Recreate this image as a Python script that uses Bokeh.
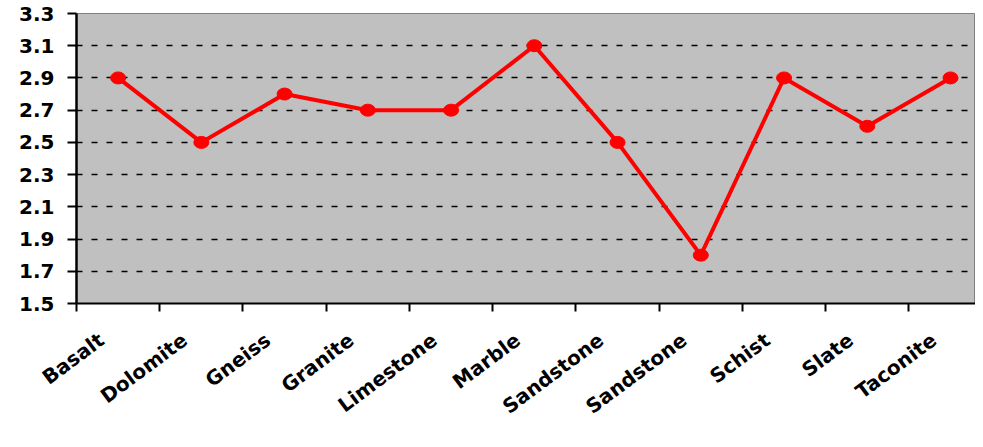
import math
from bokeh.plotting import figure
from bokeh.models import Range1d, FixedTicker, NumeralTickFormatter, ColumnDataSource
from bokeh.embed import file_html
from bokeh.resources import INLINE

rocks = ["Basalt", "Dolomite", "Gneiss", "Granite", "Limestone", "Marble",
         "Sandstone", "Sandstone", "Schist", "Slate", "Taconite"]
density = [2.9, 2.5, 2.8, 2.7, 2.7, 3.1, 2.5, 1.8, 2.9, 2.6, 2.9]
y_ticks = [1.5, 1.7, 1.9, 2.1, 2.3, 2.5, 2.7, 2.9, 3.1, 3.3]

xs = list(range(1, len(rocks) + 1))
src = ColumnDataSource(dict(x=xs, y=density, name=rocks))

FONT = "DejaVu Sans"

p = figure(width=975, height=431, output_backend="svg", toolbar_location=None,
           x_range=Range1d(0.5, 11.3), y_range=Range1d(1.5, 3.3),
           min_border_left=76, min_border_right=0, min_border_top=13, min_border_bottom=127)

p.border_fill_color = "white"
p.background_fill_color = "#C0C0C0"
p.outline_line_color = "#808080"
p.outline_line_width = 1

p.line("x", "y", source=src, line_color="#FF0000", line_width=4)
p.ellipse("x", "y", source=src, width=15, height=12, width_units="screen",
          height_units="screen", fill_color="#FF0000", line_color="#FF0000")

# x axis: labels slightly left of category centres, ticks at category boundaries
label_pos = [x - 0.2 for x in xs]
xa = p.xaxis[0]
xa.ticker = FixedTicker(ticks=label_pos, minor_ticks=[i + 0.5 for i in range(0, len(rocks))])
xa.major_label_overrides = {x: n for x, n in zip(label_pos, rocks)}
xa.major_tick_out = 0
xa.major_tick_in = 0
xa.minor_tick_out = 8
xa.minor_tick_in = 0
xa.minor_tick_line_color = "black"
xa.minor_tick_line_width = 2
xa.axis_line_color = "black"
xa.axis_line_width = 2
xa.major_label_orientation = 0.64
xa.major_label_standoff = 26
xa.major_label_text_font = FONT
xa.major_label_text_font_style = "bold"
xa.major_label_text_font_size = "20px"
xa.major_label_text_color = "black"

# y axis
ya = p.yaxis[0]
ya.ticker = FixedTicker(ticks=y_ticks)
ya.formatter = NumeralTickFormatter(format="0.0")
ya.major_tick_out = 9
ya.major_tick_in = 0
ya.minor_tick_out = 0
ya.minor_tick_in = 0
ya.major_tick_line_color = "black"
ya.major_tick_line_width = 2
ya.axis_line_color = "black"
ya.axis_line_width = 2.5
ya.major_label_standoff = 13
ya.major_label_text_font = FONT
ya.major_label_text_font_style = "bold"
ya.major_label_text_font_size = "20px"
ya.major_label_text_color = "black"

p.xgrid.grid_line_color = None
p.ygrid.grid_line_color = "black"
p.ygrid.grid_line_dash = "6 9"
p.ygrid.grid_line_width = 1.5

open("out.html", "w").write(file_html(p, INLINE))
